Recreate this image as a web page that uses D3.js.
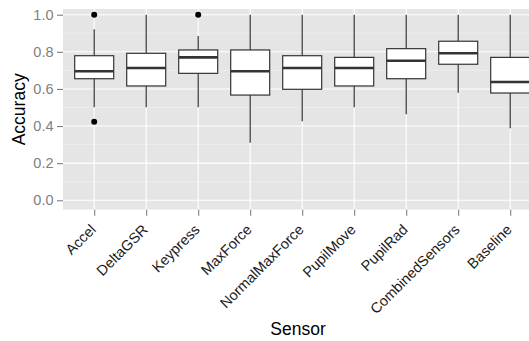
<!DOCTYPE html>
<html>
<head>
<meta charset="utf-8">
<script src="https://cdn.jsdelivr.net/npm/d3@7"></script>
<style>
  body { margin: 0; background: #fff; }
  svg { display: block; font-family: "Liberation Sans", Arial, sans-serif; }
</style>
</head>
<body>
<svg id="chart" width="529" height="341"></svg>
<script>
// box stats
const sensors = ['Accel', 'DeltaGSR', 'Keypress', 'MaxForce', 'NormalMaxForce', 'PupilMove', 'PupilRad', 'CombinedSensors', 'Baseline'];
const whiskerLow  = [0.501, 0.501, 0.501, 0.310, 0.426, 0.501, 0.463, 0.580, 0.388];
const q1          = [0.655, 0.616, 0.684, 0.567, 0.598, 0.616, 0.655, 0.733, 0.578];
const medians     = [0.695, 0.713, 0.770, 0.695, 0.713, 0.713, 0.752, 0.792, 0.637];
const q3          = [0.779, 0.792, 0.810, 0.810, 0.779, 0.770, 0.817, 0.857, 0.770];
const whiskerHigh = [0.921, 1.0, 0.885, 1.0, 1.0, 1.0, 1.0, 1.0, 1.0];
const outliers    = [[1.0, 0.4235], [], [1.0], [], [], [], [], [], []];
const yTicks = [0, 0.2, 0.4, 0.6, 0.8, 1.0];
const yMinor = [0.1, 0.3, 0.5, 0.7, 0.9];

(function(){
  const svg = d3.select('#chart');
  const panel = { left: 63, top: 9, right: 529, bottom: 209.7 };
  const step = 52;
  const font = '"Liberation Sans", Arial, sans-serif';

  const y = d3.scaleLinear().domain([-0.0507, 1.0307]).range([panel.bottom, panel.top]);
  // discrete axis with ggplot-like 0.6 expansion on each side
  const x = d3.scalePoint().domain(sensors)
    .range([panel.left + 0.6 * step, panel.left + 0.6 * step + step * (sensors.length - 1)]);

  const rows = sensors.map((s, i) => ({
    s, lo: whiskerLow[i], q1: q1[i], med: medians[i], q3: q3[i], hi: whiskerHigh[i], out: outliers[i]
  }));

  svg.append('defs').append('clipPath').attr('id', 'clip')
    .append('rect').attr('x', panel.left).attr('y', panel.top)
    .attr('width', panel.right - panel.left).attr('height', panel.bottom - panel.top);

  const g = svg.append('g').attr('clip-path', 'url(#clip)');
  g.append('rect').attr('x', panel.left).attr('y', panel.top)
    .attr('width', panel.right - panel.left).attr('height', panel.bottom - panel.top)
    .style('fill', '#e5e5e5');

  // grid
  g.selectAll('.minor').data(yMinor).enter().append('line')
    .attr('x1', panel.left).attr('x2', panel.right)
    .attr('y1', d => y(d)).attr('y2', d => y(d))
    .style('stroke', '#f2f2f2').style('stroke-width', 0.6);
  g.selectAll('.major').data(yTicks).enter().append('line')
    .attr('x1', panel.left).attr('x2', panel.right)
    .attr('y1', d => y(d)).attr('y2', d => y(d))
    .style('stroke', '#fff').style('stroke-width', 1.1);
  g.selectAll('.vmajor').data(sensors).enter().append('line')
    .attr('x1', d => x(d)).attr('x2', d => x(d))
    .attr('y1', panel.top).attr('y2', panel.bottom)
    .style('stroke', '#fff').style('stroke-width', 1.1);

  const bw = step * 0.75;
  const boxes = g.selectAll('.box').data(rows).enter().append('g');
  boxes.append('line')
    .attr('x1', d => x(d.s)).attr('x2', d => x(d.s))
    .attr('y1', d => y(d.hi)).attr('y2', d => y(d.q3))
    .style('stroke', '#333').style('stroke-width', 1.2);
  boxes.append('line')
    .attr('x1', d => x(d.s)).attr('x2', d => x(d.s))
    .attr('y1', d => y(d.q1)).attr('y2', d => y(d.lo))
    .style('stroke', '#333').style('stroke-width', 1.2);
  boxes.append('rect')
    .attr('x', d => x(d.s) - bw / 2).attr('width', bw)
    .attr('y', d => y(d.q3)).attr('height', d => y(d.q1) - y(d.q3))
    .style('fill', '#fff').style('stroke', '#333').style('stroke-width', 1.2);
  boxes.append('line')
    .attr('x1', d => x(d.s) - bw / 2).attr('x2', d => x(d.s) + bw / 2)
    .attr('y1', d => y(d.med)).attr('y2', d => y(d.med))
    .style('stroke', '#333').style('stroke-width', 2.6);
  boxes.selectAll('circle').data(d => d.out.map(v => ({ s: d.s, v }))).enter().append('circle')
    .attr('cx', d => x(d.s)).attr('cy', d => y(d.v)).attr('r', 3)
    .style('fill', '#000');

  // y axis
  const yAxis = svg.append('g').attr('transform', `translate(${panel.left},0)`)
    .call(d3.axisLeft(y).tickValues(yTicks).tickFormat(d3.format('.1f')).tickSize(6).tickPadding(3.5));
  yAxis.select('.domain').remove();
  yAxis.selectAll('line').style('stroke', '#7f7f7f').style('stroke-width', 1.1);
  yAxis.selectAll('text').style('fill', '#7f7f7f').style('font-size', '14.5px')
    .style('font-family', font);

  // x axis
  const xAxis = svg.append('g').attr('transform', `translate(0,${panel.bottom})`)
    .call(d3.axisBottom(x).tickSize(6));
  xAxis.select('.domain').remove();
  xAxis.selectAll('line').style('stroke', '#7f7f7f').style('stroke-width', 1.1);
  xAxis.selectAll('text')
    .style('fill', '#1a1a1a').style('font-size', '14.5px')
    .style('font-family', font)
    .attr('text-anchor', 'end')
    .attr('x', 0).attr('y', 0).attr('dy', null)
    .attr('transform', `translate(2,${230.5 - panel.bottom}) rotate(-45)`);

  // titles
  svg.append('text').attr('x', 298).attr('y', 335)
    .attr('text-anchor', 'middle').style('font-size', '17.5px').text('Sensor');
  svg.append('text')
    .attr('transform', `translate(25,${(panel.top + panel.bottom) / 2}) rotate(-90)`)
    .attr('text-anchor', 'middle').style('font-size', '17.5px').text('Accuracy');
})();
</script>
</body>
</html>
